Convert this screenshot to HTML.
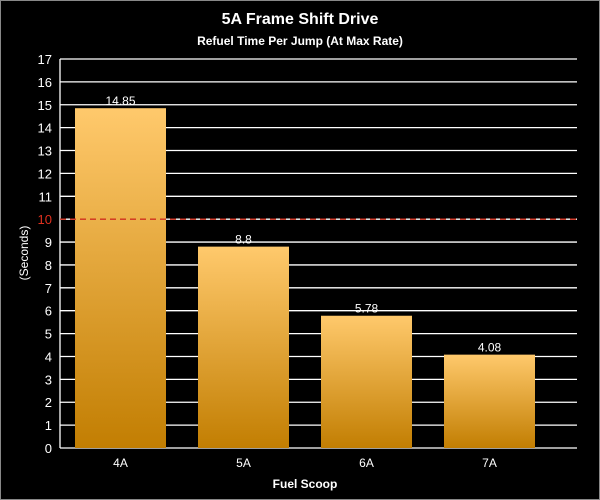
<!DOCTYPE html>
<html><head><meta charset="utf-8"><style>
html,body{margin:0;padding:0;background:#000}
svg{display:block;font-family:"Liberation Sans",sans-serif}
</style></head><body>
<svg id="chart" width="600" height="500">
<defs><linearGradient id="g" x1="0" y1="0" x2="0" y2="1">
<stop offset="0" stop-color="#ffc96c"/><stop offset="1" stop-color="#c27e02"/></linearGradient></defs>
<rect x="0.5" y="0.5" width="599" height="499" fill="#000" stroke="#888"/>
<text x="300" y="24" text-anchor="middle" fill="#fff" font-size="16" font-weight="bold">5A Frame Shift Drive</text>
<text x="300" y="45" text-anchor="middle" fill="#fff" font-size="12" font-weight="bold">Refuel Time Per Jump (At Max Rate)</text>
<text transform="translate(28,253) rotate(-90)" text-anchor="middle" fill="#fff" font-size="12">(Seconds)</text>
<text x="305" y="488" text-anchor="middle" fill="#fff" font-size="12" font-weight="bold">Fuel Scoop</text>
<g id="grid"></g><g id="bars"></g><g id="labels"></g>
</svg>
<script>
const categories=["4A","5A","6A","7A"];
const values=[14.85,8.8,5.78,4.08];
const valueLabels=["14.85","8.8","5.78","4.08"];
const yTicks=[0,1,2,3,4,5,6,7,8,9,10,11,12,13,14,15,16,17];
const refValue=10;
const ns="http://www.w3.org/2000/svg";
const L=60,R=577,T=59,B=448,yMax=17;
const y=v=>B-(v/yMax)*(B-T);
const band=123,first=75,barW=91;
const x=i=>first+band*i;
function mk(t,a,p){const e=document.createElementNS(ns,t);for(const k in a)e.setAttribute(k,a[k]);p.appendChild(e);return e;}
const grid=document.getElementById('grid'),bars=document.getElementById('bars'),lab=document.getElementById('labels');
yTicks.forEach(t=>{
 const l=mk('line',{x1:L,x2:R,y1:y(t),y2:y(t),stroke:'#fff','stroke-width':1.3},grid);
 
 
 const tx=mk('text',{x:L-8,y:y(t)+5,'text-anchor':'end',fill:t===refValue?'#e0301e':'#fff','font-size':13},grid);
 tx.textContent=t;
 
 
});
const ax=mk('line',{x1:L,x2:L,y1:T,y2:B,stroke:'#fff','stroke-width':1.3},grid);


categories.forEach((c,i)=>{
 const bx=x(i);
 const r=mk('rect',{x:bx,y:y(values[i]),width:barW,height:B-y(values[i]),fill:'url(#g)'},bars);
 
 
 const v=mk('text',{x:bx+barW/2,y:y(values[i])-3,'text-anchor':'middle',fill:'#fff','font-size':12},lab);
 v.textContent=valueLabels[i];
 
 
 const t=mk('text',{x:bx+barW/2,y:467,'text-anchor':'middle',fill:'#fff','font-size':12},lab);
 t.textContent=c;
 
 
});
const rl=mk('line',{x1:L,x2:R,y1:y(refValue),y2:y(refValue),stroke:'#d0301e','stroke-width':1.3,'stroke-dasharray':'6,4'},lab);


</script>
</body></html>
